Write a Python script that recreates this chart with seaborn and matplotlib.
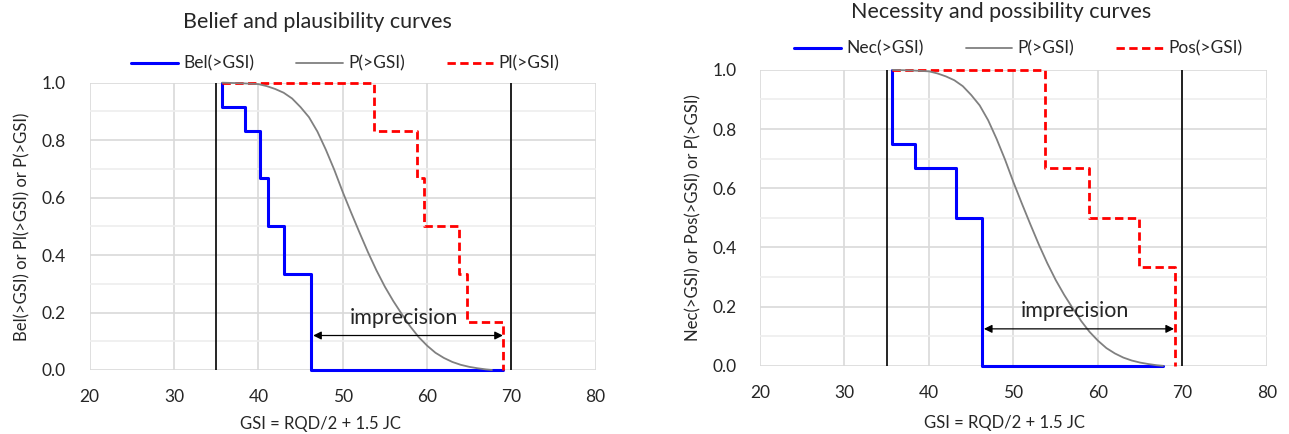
import matplotlib
matplotlib.use("Agg")
import matplotlib.pyplot as plt
import seaborn as sns
import pandas as pd
from matplotlib.ticker import MultipleLocator

# P(>GSI)
gsi = [35.7, 38, 40, 41, 42, 43, 44, 45, 46, 47, 48, 49, 50, 51, 52, 53, 54, 55,
       56, 57, 58, 59, 60, 61, 62, 63, 64, 65, 66, 67, 67.7]
p_gsi = [1.0, 0.998, 0.995, 0.988, 0.978, 0.965, 0.945, 0.915, 0.88, 0.83, 0.767, 0.697,
         0.62, 0.548, 0.478, 0.41, 0.347, 0.29, 0.24, 0.195, 0.152, 0.115, 0.085,
         0.06, 0.042, 0.028, 0.018, 0.011, 0.006, 0.002, 0.0]

# step curves (breakpoint, level)
bel_x = [35.7, 35.7, 38.4, 40.2, 41.2, 43.1, 46.2, 69.0]
bel_y = [1.0, 0.917, 0.833, 0.667, 0.5, 0.333, 0.0, 0.0]
pl_x = [35.7, 53.7, 58.8, 59.6, 63.8, 64.8, 69.05]
pl_y = [1.0, 0.833, 0.667, 0.5, 0.333, 0.167, 0.0]

nec_x = [35.6, 35.6, 38.4, 43.2, 46.3, 67.7]
nec_y = [1.0, 0.75, 0.667, 0.5, 0.0, 0.0]
pos_x = [35.6, 53.7, 58.9, 64.8, 69.1]
pos_y = [1.0, 0.667, 0.5, 0.333, 0.0]

bounds = [35, 70]
arrow_x = [46.5, 69.0]

sns.set_style("white")
plt.rcParams['font.family'] = ['Lato', 'DejaVu Sans']
plt.rcParams['text.color'] = '#262626'
plt.rcParams['xtick.color'] = '#262626'
plt.rcParams['ytick.color'] = '#262626'

fig = plt.figure(figsize=(12.89, 4.34), dpi=100)
ax1 = fig.add_axes([0.0696, 0.1475, 0.3925, 0.662])
ax2 = fig.add_axes([0.5896, 0.157, 0.3933, 0.682])


def draw(ax, lo_x, lo_y, hi_x, hi_y, names, ylab, arrow_y, text_y, xlab_pos):
    lo = pd.DataFrame({'x': lo_x, 'y': lo_y})
    hi = pd.DataFrame({'x': hi_x, 'y': hi_y})
    pc = pd.DataFrame({'x': gsi, 'y': p_gsi})
    for b in bounds:
        ax.axvline(b, color='black', lw=1.2, zorder=2)
    sns.lineplot(data=lo, x='x', y='y', ax=ax, estimator=None, sort=False,
                 drawstyle='steps-post', color='#0000ff', lw=2.2, label=names[0],
                 zorder=3, clip_on=False)
    sns.lineplot(data=pc, x='x', y='y', ax=ax, estimator=None, sort=False,
                 color='#808080', lw=1.3, label=names[1], zorder=4, clip_on=False)
    sns.lineplot(data=hi, x='x', y='y', ax=ax, estimator=None, sort=False,
                 drawstyle='steps-post', color='#ff0000', lw=2.0, label=names[2],
                 zorder=3, clip_on=False)
    ax.lines[-1].set_linestyle((0, (3, 1.6)))

    ax.set_xlim(20, 80)
    ax.set_ylim(0, 1)
    ax.xaxis.set_major_locator(MultipleLocator(10))
    ax.yaxis.set_major_locator(MultipleLocator(0.2))
    ax.yaxis.set_minor_locator(MultipleLocator(0.1))
    ax.yaxis.set_major_formatter(matplotlib.ticker.FormatStrFormatter('%.1f'))
    ax.grid(True, which='major', color='#d9d9d9', lw=1.2)
    ax.grid(True, which='minor', axis='y', color='#eeeeee', lw=1.2)
    ax.set_axisbelow(True)
    for s in ax.spines.values():
        s.set_visible(False)
    ax.tick_params(axis='both', which='both', length=0, labelsize=12.5)
    ax.tick_params(axis='y', pad=17)
    ax.tick_params(axis='x', pad=14)
    ax.set_xlabel('GSI = RQD/2 + 1.5 JC', fontsize=12)
    ax.xaxis.set_label_coords(xlab_pos[0], xlab_pos[1])
    ax.set_ylabel(ylab, fontsize=12, labelpad=8)

    ax.annotate('', xy=(arrow_x[1], arrow_y), xytext=(arrow_x[0], arrow_y),
                arrowprops=dict(arrowstyle='<|-|>', color='black', lw=0.9,
                                mutation_scale=12, shrinkA=0, shrinkB=0), zorder=5)
    ax.text(57.3, text_y, 'imprecision', fontsize=15.5, ha='center', va='center', zorder=5)
    ax.legend_.remove()


draw(ax1, bel_x, bel_y, pl_x, pl_y, ['Bel(>GSI)', 'P(>GSI)', 'Pl(>GSI)'],
     'Bel(>GSI) or Pl(>GSI) or P(>GSI)', 0.12, 0.18, (0.457, -0.16))
draw(ax2, nec_x, nec_y, pos_x, pos_y, ['Nec(>GSI)', 'P(>GSI)', 'Pos(>GSI)'],
     'Nec(>GSI) or Pos(>GSI) or P(>GSI)', 0.125, 0.185, (0.483, -0.165))

for ax, lx, ly in [(ax1, 0.268, 0.853), (ax2, 0.79, 0.888)]:
    h, l = ax.get_legend_handles_labels()
    fig.legend(h, l, loc='center', bbox_to_anchor=(lx, ly), ncol=3, frameon=False,
               fontsize=12.5, handlelength=2.7, handletextpad=0.3, columnspacing=2.4)

fig.text(0.246, 0.949, 'Belief and plausibility curves', fontsize=15.5, ha='center', va='center')
fig.text(0.777, 0.972, 'Necessity and possibility curves', fontsize=15.5, ha='center', va='center')

fig.savefig('out.png', dpi=100)
